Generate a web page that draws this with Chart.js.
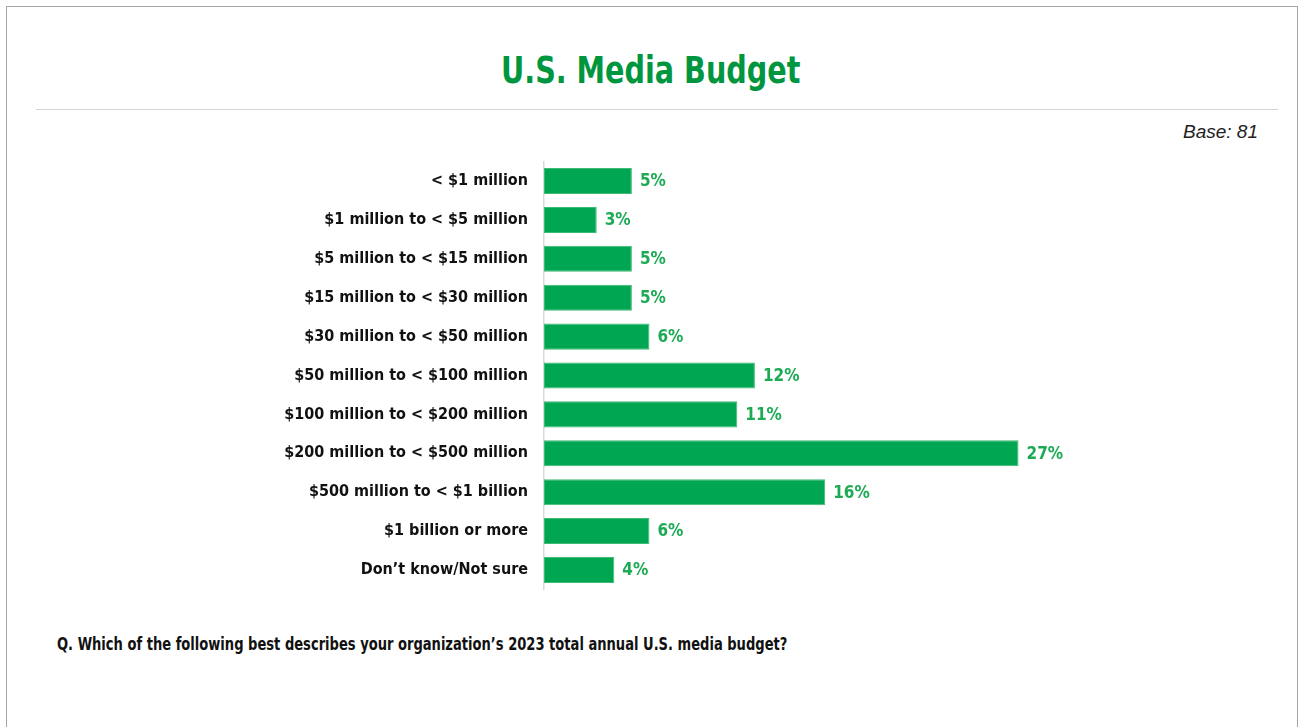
<!DOCTYPE html>
<html>
<head>
<meta charset="utf-8">
<title>U.S. Media Budget</title>
<script src="https://cdn.jsdelivr.net/npm/chart.js@4"></script>
<style>
  html, body { margin: 0; padding: 0; background: #fff; }
  body { width: 1301px; height: 727px; position: relative; overflow: hidden; }
  .frame { position: absolute; left: 6px; top: 6px; width: 1292px; height: 740px; border: 1.5px solid #a6a6a6; box-sizing: border-box; }
  .title { position: absolute; left: 0; width: 1301px; top: 49px; text-align: center;
    font: bold 37px "Liberation Sans Narrow", "DejaVu Sans Condensed", sans-serif; color: #009640;
    transform: scaleX(0.86); transform-origin: 652px 0; }
  .rule { position: absolute; left: 36px; width: 1242px; top: 109px; height: 0; border-top: 1.5px solid #d4d4d4; }
  .base { position: absolute; right: 43px; top: 121px; font: italic 19px "Liberation Sans", Arial, sans-serif; color: #222; }
  .note { position: absolute; left: 57px; top: 634px; white-space: nowrap;
    font: bold 17px "Liberation Sans Narrow", "DejaVu Sans Condensed", sans-serif; color: #111;
    transform: scaleX(0.855); transform-origin: 0 0; }
  #chart { position: absolute; left: 0; top: 136px; }
</style>
</head>
<body>
<div class="frame"></div>
<div class="title">U.S. Media Budget</div>
<div class="rule"></div>
<div class="base">Base: 81</div>
<canvas id="chart" width="1301" height="479"></canvas>
<div class="note">Q. Which of the following best describes your organization’s 2023 total annual U.S. media budget?</div>

<script>
const categories = [
  '< $1 million',
  '$1 million to < $5 million',
  '$5 million to < $15 million',
  '$15 million to < $30 million',
  '$30 million to < $50 million',
  '$50 million to < $100 million',
  '$100 million to < $200 million',
  '$200 million to < $500 million',
  '$500 million to < $1 billion',
  '$1 billion or more',
  'Don’t know/Not sure'
];
const shares = [5, 3, 5, 5, 6, 12, 11, 27, 16, 6, 4];

const labelFont = '"Liberation Sans Narrow", "DejaVu Sans Condensed", sans-serif';

// writes "n%" just past the end of each bar
const valueLabels = {
  id: 'valueLabels',
  afterDatasetsDraw(chart) {
    const ctx = chart.ctx;
    const meta = chart.getDatasetMeta(0);
    ctx.save();
    ctx.font = 'bold 17px ' + labelFont;
    ctx.fillStyle = '#1daa55';
    ctx.textAlign = 'left';
    ctx.textBaseline = 'middle';
    meta.data.forEach((bar, i) => {
      ctx.fillText(shares[i] + '%', bar.x + 8, bar.y + 1);
    });
    ctx.restore();
  }
};

new Chart(document.getElementById('chart'), {
  type: 'bar',
  data: {
    labels: categories,
    datasets: [{
      data: shares,
      backgroundColor: '#00a651',
      borderColor: '#3dbb74',
      borderWidth: 1,
      borderSkipped: false,
      categoryPercentage: 1,
      barPercentage: 0.67
    }]
  },
  options: {
    indexAxis: 'y',
    responsive: false,
    animation: false,
    layout: { padding: { left: 0, right: 54, top: 10, bottom: 10 } },
    plugins: { legend: { display: false }, tooltip: { enabled: false } },
    scales: {
      x: { display: false, min: 0, max: 40 },
      y: {
        afterFit(scale) { scale.width = 544; },
        grid: { display: false, drawTicks: false },
        border: { display: true, color: '#d9d9d9', width: 1.5 },
        ticks: {
          padding: 16,
          color: '#111',
          font: { family: labelFont, size: 16, weight: 'bold' }
        }
      }
    }
  },
  plugins: [valueLabels]
});
</script>
</body>
</html>
